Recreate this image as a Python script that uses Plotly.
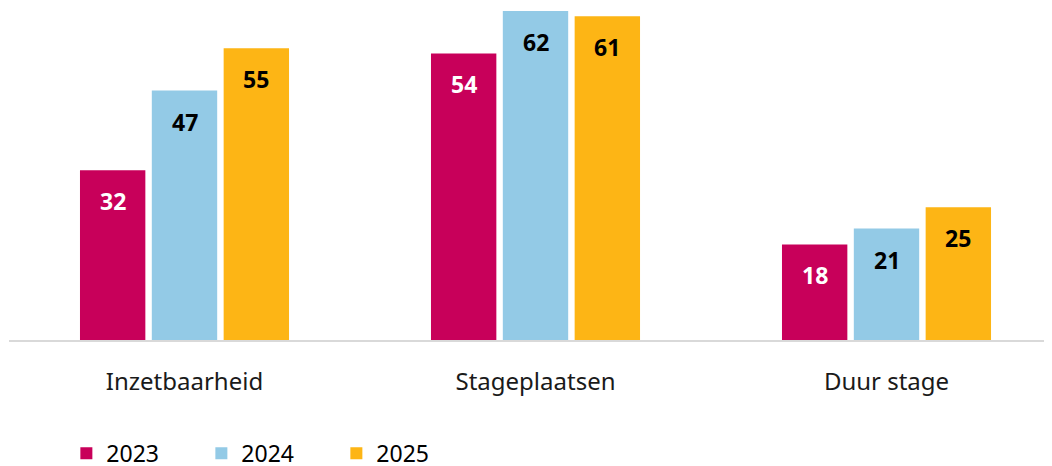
import plotly.graph_objects as go

categories = ["Inzetbaarheid", "Stageplaatsen", "Duur stage"]
years = ["2023", "2024", "2025"]
values_2023 = [32, 54, 18]
values_2024 = [47, 62, 21]
values_2025 = [55, 61, 25]

series = [values_2023, values_2024, values_2025]
colors = ["#C8005A", "#93CAE6", "#FDB515"]
label_colors = ["white", "#000000", "#000000"]
font_family = "Noto Sans, Calibri, Arial, sans-serif"

fig = go.Figure()

for year, vals, col in zip(years, series, colors):
    fig.add_trace(go.Bar(
        x=categories,
        y=vals,
        name=year,
        marker=dict(color=col, line=dict(width=0)),
    ))

# value labels inside bars, a bit below the top
slot = 71.8
for i, (vals, lc) in enumerate(zip(series, label_colors)):
    for cat, v in zip(categories, vals):
        fig.add_annotation(
            x=cat, y=v, text=f"<b>{v}</b>",
            showarrow=False, xshift=(i - 1) * slot, yshift=-31,
            yanchor="middle", xanchor="center",
            font=dict(size=23, color=lc, family=font_family),
        )

# page body adds an 8px offset, so the figure is sized to fit the window
fig.update_layout(
    width=1044, height=458,
    margin=dict(l=1, r=0, t=3, b=126, autoexpand=False),
    plot_bgcolor="white", paper_bgcolor="white",
    barmode="group", bargap=0.386, bargroupgap=0.09,
    font=dict(family=font_family, size=24, color="#1A1A1A"),
    showlegend=True,
    legend=dict(
        orientation="h", x=0.055, xanchor="left",
        yref="container", y=0.028, yanchor="middle",
        entrywidth=90, entrywidthmode="pixels",
        font=dict(size=23, color="#000000"),
    ),
    xaxis=dict(
        range=[-0.5, 2.4715], showline=True, linecolor="#D9D9D9", linewidth=2,
        showgrid=False, ticks="", ticklabelstandoff=19, automargin=False,
    ),
    yaxis=dict(range=[0, 62], visible=False, showgrid=False, automargin=False),
)

fig.write_html("out.html")
